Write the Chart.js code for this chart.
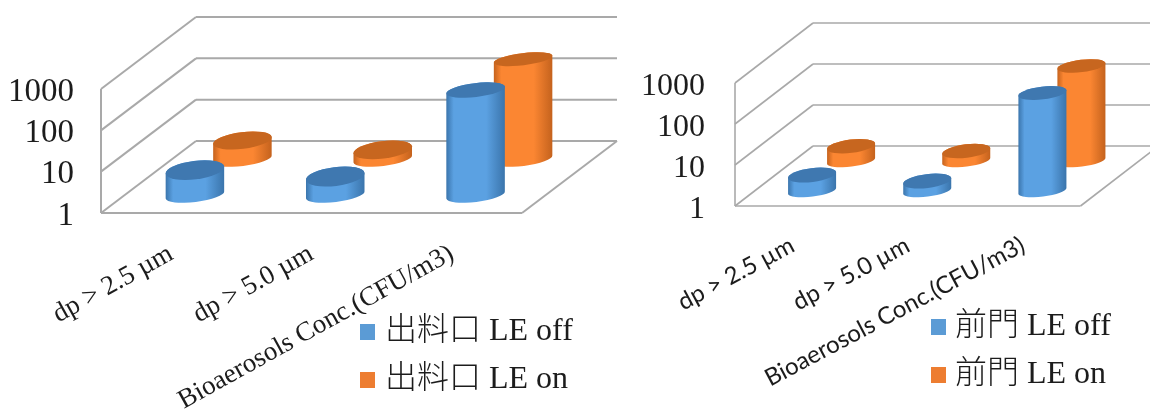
<!DOCTYPE html>
<html>
<head>
<meta charset="utf-8">
<style>
  html, body { margin: 0; padding: 0; background: #fff; overflow: hidden; }
  #stage { position: relative; width: 1150px; height: 412px; }
  canvas { position: absolute; top: 0; }
</style>
<script src="https://cdn.jsdelivr.net/npm/chart.js@4/dist/chart.umd.js"></script>
</head>
<body>
<div id="stage">
  <canvas id="outlet" width="625" height="412" style="left:0"></canvas>
  <canvas id="door" width="525" height="412" style="left:625px"></canvas>
</div>
<script>
const categories = ['dp > 2.5 µm', 'dp > 5.0 µm', 'Bioaerosols Conc.(CFU/m3)'];
const yTickValues = [1, 10, 100, 1000];

const outletLabels = ['出料口 LE off', '出料口 LE on'];
const outletOff = [4, 2.8, 345];
const outletOn = [2.8, 1.66, 260];

const doorLabels = ['前門 LE off', '前門 LE on'];
const doorOff = [2.45, 1.75, 245];
const doorOn = [2.3, 1.75, 208];

const BLUE = { edge: '#3a74ab', mid: '#5ba1e2', cap: '#3f78b0', swatch: '#5b9bd5' };
const ORANGE = { edge: '#c4621d', mid: '#fb8632', cap: '#c7661f', swatch: '#ed7d31' };
const SERIF = '"Liberation Serif", "Noto Sans CJK TC", serif';

// Bars drawn as upright cylinders standing on a sheared floor.
class CylinderController extends Chart.BarController {
  draw() {
    const chart = this.chart;
    const ctx = chart.ctx;
    const o = chart.options.plugins.box3d;
    const area = chart.chartArea;
    const depth = (this.index + 0.5) / chart.data.datasets.length;
    const palette = this.getDataset().palette;
    const tilt = -7 * Math.PI / 180;
    this.getMeta().data.forEach((bar) => {
      const cx = bar.x + o.dx * depth;
      const topY = bar.y + o.dy * depth;
      const baseY = bar.base + o.dy * depth;
      const rx = bar.width / 2;
      const ryTop = o.ryFar + (o.ryNear - o.ryFar) * (topY - area.top) / (area.bottom - area.top);
      const side = ctx.createLinearGradient(cx - rx, 0, cx + rx, 0);
      side.addColorStop(0, palette.edge);
      side.addColorStop(0.13, palette.mid);
      side.addColorStop(0.68, palette.mid);
      side.addColorStop(1, palette.edge);
      ctx.save();
      ctx.beginPath();
      ctx.ellipse(cx, baseY, rx, o.ryBase, tilt, 0, Math.PI);
      ctx.ellipse(cx, topY, rx, ryTop, tilt, Math.PI, Math.PI * 2);
      ctx.closePath();
      ctx.fillStyle = side;
      ctx.fill();
      ctx.beginPath();
      ctx.ellipse(cx, topY, rx, ryTop, tilt, 0, Math.PI * 2);
      ctx.fillStyle = palette.cap;
      ctx.fill();
      ctx.restore();
    });
  }
}
CylinderController.id = 'cylinder';
CylinderController.defaults = Chart.BarController.defaults;
CylinderController.overrides = Chart.BarController.overrides;
Chart.register(CylinderController);

// Back wall, side wall and floor, following the value axis ticks.
const box3d = {
  id: 'box3d',
  beforeDatasetsDraw(chart, args, o) {
    const { ctx, chartArea: a, scales: { y } } = chart;
    ctx.save();
    ctx.strokeStyle = o.lineColor;
    ctx.lineWidth = o.lineWidth;
    const seg = (x1, y1, x2, y2) => {
      ctx.beginPath();
      ctx.moveTo(x1, y1);
      ctx.lineTo(x2, y2);
      ctx.stroke();
    };
    y.ticks.forEach((t) => {
      const py = y.getPixelForValue(t.value);
      seg(a.left, py, a.left + o.dx, py + o.dy);
      seg(a.left + o.dx, py + o.dy, a.right + o.dx, py + o.dy);
    });
    seg(a.left, a.top, a.left, a.bottom);
    seg(a.left, a.bottom, a.right, a.bottom);
    seg(a.right, a.bottom, a.right + o.dx, a.bottom + o.dy);
    ctx.restore();
  }
};

// Series key placed under the plot.
const seriesKey = {
  id: 'seriesKey',
  afterDraw(chart, args, o) {
    const ctx = chart.ctx;
    ctx.save();
    ctx.textBaseline = 'middle';
    ctx.textAlign = 'left';
    ctx.font = o.font;
    chart.data.datasets.forEach((ds, i) => {
      const row = o.rows[i];
      ctx.fillStyle = ds.palette.swatch;
      ctx.fillRect(o.boxX, row - 8, 15, 16);
      ctx.fillStyle = '#1c1c1c';
      ctx.fillText(ds.label, o.textX, row);
    });
    ctx.restore();
  }
};

function buildChart(id, labels, off, on, cfg) {
  return new Chart(document.getElementById(id), {
    type: 'cylinder',
    data: {
      labels: categories,
      datasets: [
        { label: labels[0], data: off, palette: BLUE, backgroundColor: BLUE.swatch, grouped: false, clip: false },
        { label: labels[1], data: on, palette: ORANGE, backgroundColor: ORANGE.swatch, grouped: false, clip: false }
      ]
    },
    options: {
      responsive: false,
      animation: false,
      layout: { padding: cfg.padding },
      barPercentage: 1,
      categoryPercentage: cfg.barShare,
      scales: {
        x: {
          type: 'category',
          offset: true,
          grid: { display: false },
          border: { display: false },
          afterFit(s) { s.height = cfg.xHeight; },
          ticks: {
            autoSkip: false,
            minRotation: cfg.xAngle,
            maxRotation: cfg.xAngle,
            padding: cfg.xPad,
            color: '#1c1c1c',
            font: cfg.xFont
          }
        },
        y: {
          type: 'logarithmic',
          min: 1,
          max: 1000,
          grid: { display: false },
          border: { display: false },
          afterFit(s) { s.width = cfg.yWidth; },
          afterBuildTicks(s) { s.ticks = yTickValues.map((value) => ({ value })); },
          ticks: {
            autoSkip: false,
            padding: cfg.yPad,
            labelOffset: cfg.yShift,
            color: '#1c1c1c',
            font: { family: SERIF, size: cfg.ySize },
            callback: (v) => String(v)
          }
        }
      },
      plugins: {
        legend: { display: false },
        tooltip: { enabled: false },
        box3d: cfg.box,
        seriesKey: cfg.key
      }
    },
    plugins: [box3d, seriesKey]
  });
}

buildChart('outlet', outletLabels, outletOff, outletOn, {
  padding: { left: 0, right: 103, top: 89, bottom: 0 },
  xHeight: 199,
  yWidth: 101,
  yPad: 19,
  yShift: 3,
  ySize: 33,
  xPad: 17,
  xAngle: 29,
  xFont: { family: SERIF, size: 27 },
  barShare: 0.42,
  box: { dx: 95, dy: -72, ryNear: 10.5, ryFar: 6.9, ryBase: 7, lineColor: '#a9a9a9', lineWidth: 2 },
  key: { font: '300 32px ' + SERIF, boxX: 360, textX: 385, rows: [332, 380] }
});

buildChart('door', doorLabels, doorOff, doorOn, {
  padding: { left: 0, right: 69.5, top: 83, bottom: 0 },
  xHeight: 206,
  yWidth: 110,
  yPad: 22,
  yShift: 4,
  ySize: 32,
  xPad: 17,
  xAngle: 28,
  xFont: { family: '"Lato", "Open Sans", sans-serif', size: 24 },
  barShare: 0.42,
  box: { dx: 78, dy: -60, ryNear: 7.1, ryFar: 6.3, ryBase: 5.5, lineColor: '#a9a9a9', lineWidth: 1.6 },
  key: { font: '300 32px ' + SERIF, boxX: 306, textX: 330, rows: [327, 375] }
});
</script>
</body>
</html>
